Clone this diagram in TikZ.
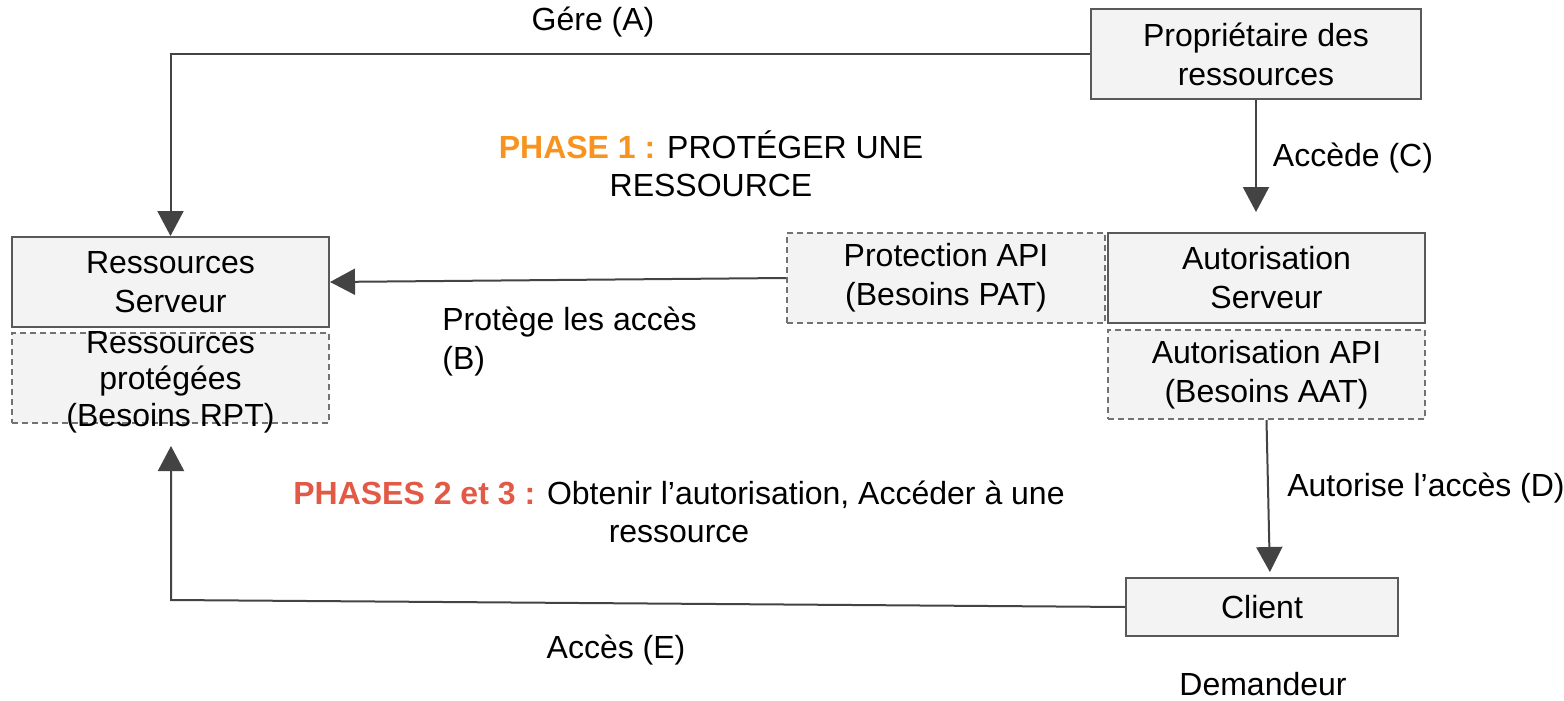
\documentclass[tikz,border=0pt]{standalone}
\usepackage{fontspec}
\setmainfont{Liberation Sans}
\usetikzlibrary{arrows.meta}
\definecolor{boxfill}{HTML}{F3F3F3}
\definecolor{boxline}{HTML}{595959}
\definecolor{flecheC}{HTML}{434343}
\definecolor{orangeP}{HTML}{F7931E}
\definecolor{rougeP}{HTML}{E25A45}
\tikzset{
  boite/.style={draw=boxline,line width=1pt,fill=boxfill,inner sep=0pt,
    minimum width=158.5pt,minimum height=45pt,align=center,
    font=\fontsize{16}{19.5}\selectfont},
  boitept/.style={boite,dashed,dash pattern=on 3pt off 2pt,draw=boxline!85},
  etiq/.style={inner sep=0pt,font=\fontsize{16}{19.5}\selectfont},
  fleche/.style={draw=flecheC,line width=1pt,-{Triangle[length=12.5pt,width=13pt]}}
}
\begin{document}
\begin{tikzpicture}[x=0.5pt,y=-0.5pt]
\useasboundingbox (0,0) rectangle (1564,701);
% boites
\node[boite,minimum width=165pt] (prop) at (1256,54) {Propriétaire des\\ressources};
\node[boite] (rs) at (170.5,282) {Ressources\\Serveur};
\node[boitept] (rp) at (170.5,378) {};
\node[etiq,align=center,font=\fontsize{16}{18.25}\selectfont] (rpt) at ([yshift=-2pt]rp.center) {Ressources\\protégées\\(Besoins RPT)};
\node[boitept,minimum width=159pt] (pa) at (946,278) {Protection API\\(Besoins PAT)};
\node[boite] (auts) at (1266.5,278) {Autorisation\\Serveur};
\node[boitept,minimum height=44.5pt] (aapi) at (1266.5,374.5) {Autorisation API\\(Besoins AAT)};
\node[boite,minimum width=136pt,minimum height=29pt] (client) at (1262,607) {Client};
% textes
\node[etiq] (lA) at (593,22) {Gére (A)};
\node[etiq] (lC) at (1353,158) {Accède (C)};
\node[etiq,align=left,anchor=west] (lB) at (442,342) {Protège les accès\\(B)};
\node[etiq] (lD) at (1426,488) {Autorise l’accès (D)};
\node[etiq] (lE) at (616,650) {Accès (E)};
\node[etiq] (dem) at (1263,684) {Demandeur};
\node[etiq,align=center,font=\fontsize{16}{19}\selectfont] (ph1) at (711,164)
  {\textcolor{orangeP}{\textbf{PHASE 1 :}} PROTÉGER UNE\\RESSOURCE};
\node[etiq,align=center,font=\fontsize{16}{19}\selectfont] (ph23) at (679,512)
  {\textcolor{rougeP}{\textbf{PHASES 2 et 3 :}} Obtenir l’autorisation, Accéder à une\\ressource};
% fleches
\coordinate (cE) at (171,600);
\draw[fleche] (prop.west) -| (rs.north);
\draw[fleche,shorten >=10pt] (prop.south) -- (prop.south |- auts.north);
\draw[fleche] (pa.west) -- (rs.east);
\draw[fleche,shorten >=2.5pt] (aapi.south) -- ([xshift=4pt]client.north);
\draw[fleche,shorten >=11pt] (client.west) -- (cE) -- (cE |- rp.south);
\end{tikzpicture}
\end{document}
